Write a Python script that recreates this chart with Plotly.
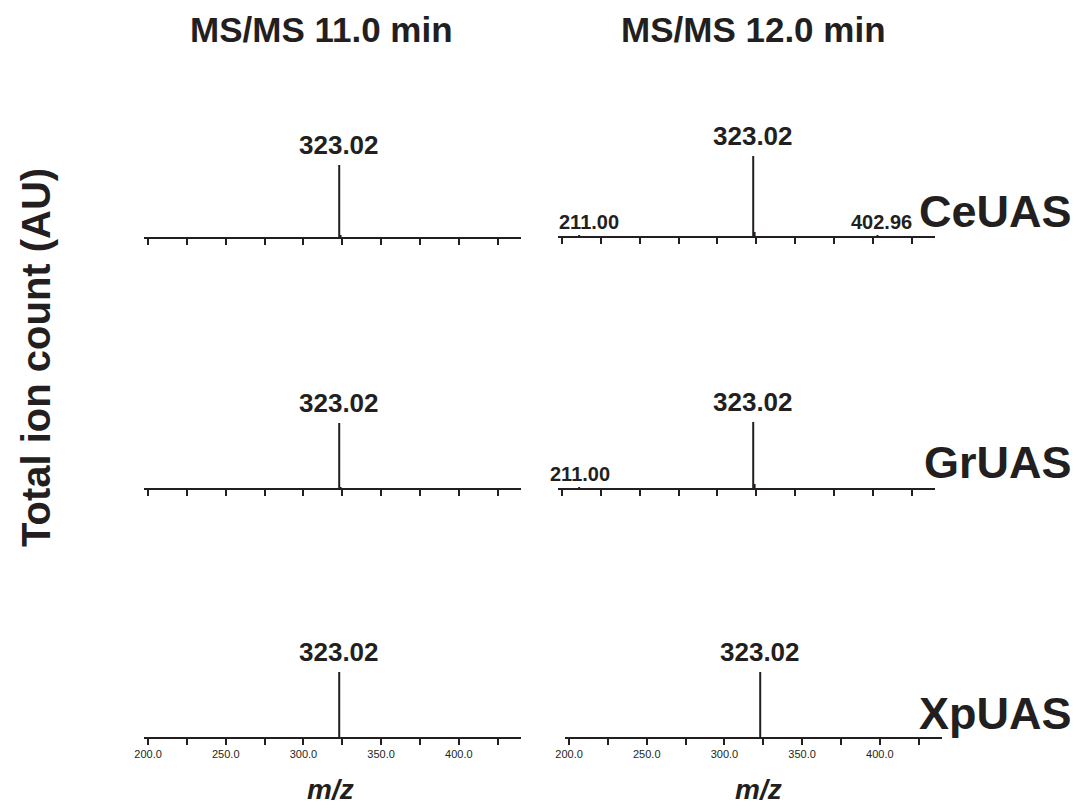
import plotly.graph_objects as go

# ---- data ----
col_titles = ["MS/MS 11.0 min", "MS/MS 12.0 min"]
row_labels = ["CeUAS", "GrUAS", "XpUAS"]
tick_vals = [200, 225, 250, 275, 300, 325, 350, 375, 400, 425]
tick_text = ["200.0", "", "250.0", "", "300.0", "", "350.0", "", "400.0", ""]
main_peak_mz = 323.02
# main peak relative intensities [row][col]
main_peak_int = [[0.72, 0.80], [0.65, 0.66], [0.65, 0.65]]
# minor shoulder next to main peak
shoulder_mz = 323.9
shoulder_int = [[0.02, 0.04], [0.01, 0.04], [0.0, 0.0]]
# labelled minor ions (row, col, m/z, label)
minor_ions = [(0, 1, 211.00, "211.00"), (0, 1, 402.96, "402.96"), (1, 1, 211.00, "211.00")]
minor_int = [0.01, 0.01, 0.01]

# ---- styling / geometry (pixels) ----
W, H = 1091, 805
INK = "#231f20"
FONT = "Liberation Sans, Arial, Helvetica, sans-serif"
col_x = {0: [(144, 521)] * 3, 1: [(558, 935), (558, 935), (565, 942)]}
baselines = [[237, 236], [488, 488], [737, 737]]
PANEL_H = 100  # px for intensity 0..1
minor_label_shift = [10, 4, 1]

fig = go.Figure()
annotations = []
k = 0
for r in range(3):
    for c in range(2):
        k += 1
        xa = "xaxis" if k == 1 else f"xaxis{k}"
        ya = "yaxis" if k == 1 else f"yaxis{k}"
        xr = "x" if k == 1 else f"x{k}"
        yr = "y" if k == 1 else f"y{k}"
        x0, x1 = col_x[c][r]
        b = baselines[r][c]
        xs, ys = [], []
        xs += [main_peak_mz, main_peak_mz, None]
        ys += [0, main_peak_int[r][c], None]
        if shoulder_int[r][c] > 0:
            xs += [shoulder_mz, shoulder_mz, None]
            ys += [0, shoulder_int[r][c], None]
        for (rr, cc, mz, lab), iv in zip(minor_ions, minor_int):
            if rr == r and cc == c:
                xs += [mz, mz, None]
                ys += [0, iv, None]
        fig.add_trace(go.Scatter(x=xs, y=ys, mode="lines", xaxis=xr, yaxis=yr,
                                 line=dict(color=INK, width=2), showlegend=False,
                                 hoverinfo="skip"))
        fig.layout[xa] = dict(
            domain=[x0 / W, x1 / W], range=[197.4, 440], anchor=yr,
            showline=True, linecolor=INK, linewidth=2, showgrid=False, zeroline=False,
            ticks="outside", ticklen=6, tickwidth=2, tickcolor=INK,
            tickvals=tick_vals, automargin=False,
            ticktext=tick_text if r == 2 else [""] * len(tick_vals),
            tickfont=dict(family=FONT, size=11, color=INK),
            fixedrange=True,
        )
        fig.layout[ya] = dict(
            domain=[1 - b / H, 1 - (b - PANEL_H) / H], range=[0, 1], anchor=xr,
            visible=False, fixedrange=True, automargin=False,
        )
        annotations.append(dict(
            x=main_peak_mz, y=main_peak_int[r][c], xref=xr, yref=yr,
            text="<b>323.02</b>", showarrow=False, yanchor="bottom", yshift=3,
            font=dict(family=FONT, size=26, color=INK)))
        for (rr, cc, mz, lab), sh in zip(minor_ions, minor_label_shift):
            if rr == r and cc == c:
                annotations.append(dict(
                    x=mz, y=0, xref=xr, yref=yr, text=f"<b>{lab}</b>", showarrow=False,
                    yanchor="bottom", yshift=1, xanchor="center", xshift=sh,
                    font=dict(family=FONT, size=20, color=INK)))

# column titles
for t, xc in zip(col_titles, [321, 753]):
    annotations.append(dict(x=xc / W, y=1 - 30 / H, xref="paper", yref="paper", text=f"<b>{t}</b>",
                            showarrow=False, xanchor="center", yanchor="middle",
                            font=dict(family=FONT, size=35, color=INK)))
# row labels
for lab, yc in zip(row_labels, [211, 462, 713]):
    annotations.append(dict(x=1074 / W, y=1 - yc / H, xref="paper", yref="paper", text=f"<b>{lab}</b>",
                            showarrow=False, xanchor="right", yanchor="middle",
                            font=dict(family=FONT, size=45, color=INK)))
# y title
annotations.append(dict(x=36 / W, y=1 - 358 / H, xref="paper", yref="paper",
                        text="<b>Total ion count (AU)</b>", textangle=-90, showarrow=False,
                        xanchor="center", yanchor="middle",
                        font=dict(family=FONT, size=40, color=INK)))
# x titles
for xc in [330, 758]:
    annotations.append(dict(x=xc / W, y=1 - 789 / H, xref="paper", yref="paper",
                            text="<b><i>m/z</i></b>", showarrow=False,
                            xanchor="center", yanchor="middle",
                            font=dict(family=FONT, size=28, color=INK)))

fig.update_layout(width=W, height=H,
                  margin=dict(l=0, r=0, t=0, b=0, pad=0, autoexpand=False),
                  paper_bgcolor="white", plot_bgcolor="white", showlegend=False,
                  annotations=annotations)
fig.write_html("out.html", config={"displayModeBar": False},
               post_script="document.body.style.margin='0';document.body.style.overflow='hidden';")
